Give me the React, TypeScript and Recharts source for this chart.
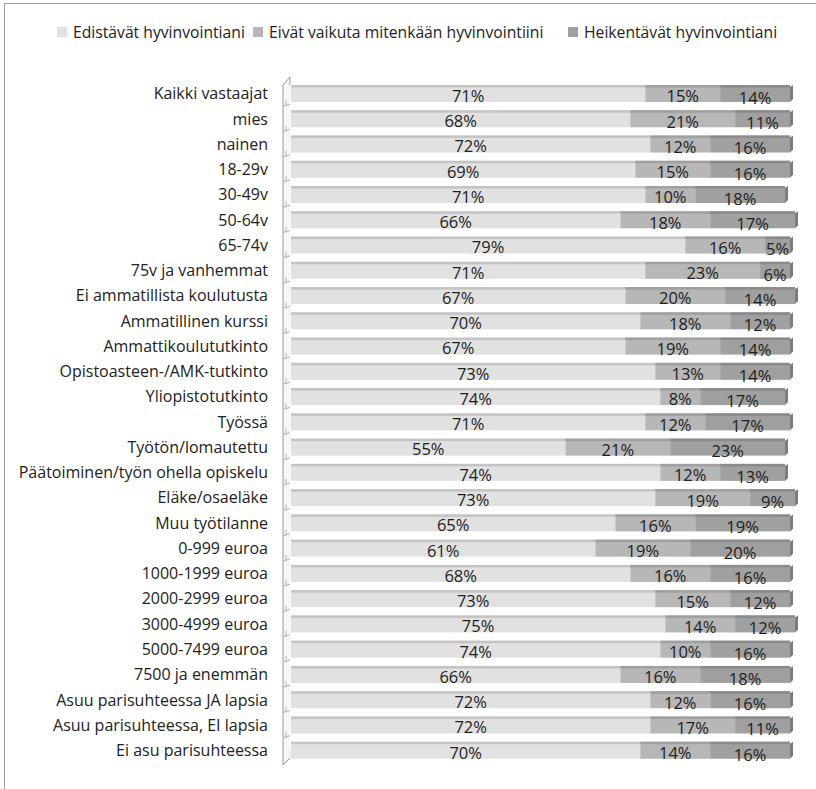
import React from 'react';
import * as R from 'recharts';
import { BarChart, Bar, XAxis, YAxis, LabelList, Legend } from 'recharts';

const categories = [
  'Kaikki vastaajat', 'mies', 'nainen', '18-29v', '30-49v', '50-64v', '65-74v',
  '75v ja vanhemmat', 'Ei ammatillista koulutusta', 'Ammatillinen kurssi',
  'Ammattikoulututkinto', 'Opistoasteen-/AMK-tutkinto', 'Yliopistotutkinto',
  'Työssä', 'Työtön/lomautettu', 'Päätoiminen/työn ohella opiskelu',
  'Eläke/osaeläke', 'Muu työtilanne', '0-999 euroa', '1000-1999 euroa',
  '2000-2999 euroa', '3000-4999 euroa', '5000-7499 euroa', '7500 ja enemmän',
  'Asuu parisuhteessa JA lapsia', 'Asuu parisuhteessa, EI lapsia', 'Ei asu parisuhteessa',
];
const edistavat = [71, 68, 72, 69, 71, 66, 79, 71, 67, 70, 67, 73, 74, 71, 55, 74, 73, 65, 61, 68, 73, 75, 74, 66, 72, 72, 70];
const eivatVaikuta = [15, 21, 12, 15, 10, 18, 16, 23, 20, 18, 19, 13, 8, 12, 21, 12, 19, 16, 19, 16, 15, 14, 10, 16, 12, 17, 14];
const heikentavat = [14, 11, 16, 16, 18, 17, 5, 6, 14, 12, 14, 14, 17, 17, 23, 13, 9, 19, 20, 16, 12, 12, 16, 18, 16, 11, 16];
const seriesNames = ['Edistävät hyvinvointiani', 'Eivät vaikuta mitenkään hyvinvointiini', 'Heikentävät hyvinvointiani'];

const data = categories.map((c, i) => ({
  name: c,
  a: edistavat[i],
  b: eivatVaikuta[i],
  c: heikentavat[i],
}));

const FONT = '"Open Sans", "Noto Sans", sans-serif';
const COLORS = ['#e1e1e1', '#b7b7b7', '#a0a0a0'];
const TOPS = ['#c4c4c4', '#a0a0a0', '#8a8a8a'];
const LEGEND_ITEM_WIDTHS = [196, 315, 230];

const makeShape = (idx: number) => (p: any) => {
  const { x, y, width, height } = p;
  if (width == null || height == null) return null;
  const last = idx === 2;
  return (
    <g>
      <rect x={x} y={y} width={width} height={height} fill={COLORS[idx]} />
      <rect x={x} y={y} width={width} height={2.5} fill={TOPS[idx]} />
      {last && (
        <polygon
          points={`${x + width},${y + 2} ${x + width + 3},${y} ${x + width + 3},${y + height - 3} ${x + width},${y + height}`}
          fill="#7c7c7c"
        />
      )}
    </g>
  );
};

const Wall = () => {
  const anyR: any = R;
  let area: any = null;
  if (anyR.usePlotArea) {
    area = anyR.usePlotArea();
  }
  if (!area) return null;
  const { x, y, height } = area;
  const n = categories.length;
  const band = height / n;
  const fx = x - 8;
  const bx = x - 1;
  const ticks = [];
  for (let i = 1; i < n; i++) {
    const ty = y + i * band;
    ticks.push(
      <g key={i}>
        <line x1={fx} y1={ty} x2={bx} y2={ty - 2} stroke="#b5b5b5" strokeWidth={1} />
        <line x1={fx + 3} y1={ty - 6} x2={fx + 3} y2={ty} stroke="#b5b5b5" strokeWidth={1} />
      </g>
    );
  }
  return (
    <g>
      <polygon
        points={`${fx},${y + 4} ${bx},${y - 4} ${bx},${y + height - 5} ${fx},${y + height + 2}`}
        fill="#f6f6f6"
        stroke="none"
      />
      <polyline
        points={`${bx},${y + 4} ${bx},${y - 4} ${fx},${y + 4} ${fx},${y + height + 2} ${bx},${y + height - 5}`}
        fill="none"
        stroke="#9a9a9a"
        strokeWidth={1}
      />
      {ticks}
    </g>
  );
};

const LegendContent = () => (
  <div style={{ display: 'flex', alignItems: 'center', fontFamily: FONT, fontSize: 15.7, color: '#222', whiteSpace: 'nowrap', lineHeight: '20px', height: 20 }}>
    {seriesNames.map((s, i) => (
      <div key={s} style={{ display: 'flex', alignItems: 'center', width: LEGEND_ITEM_WIDTHS[i] }}>
        <span style={{ display: 'inline-block', width: 10, height: 10, background: COLORS[i], marginRight: 6 }} />
        <span>{s}</span>
      </div>
    ))}
  </div>
);

const labelStyle = { fontFamily: FONT, fontSize: 16.5, fill: '#1e1e1e' };

export default function App() {
  return (
    <div style={{ position: 'absolute', left: 0, top: 0, width: 816, height: 789, overflow: 'hidden', background: '#fff' }}>
      <div style={{ position: 'absolute', left: 4, top: 3, width: 820, height: 800, borderLeft: '1px solid #9e9e9e', borderTop: '1px solid #9e9e9e', boxSizing: 'border-box' }} />
      <div style={{ position: 'absolute', left: 0, top: 0 }}>
        <BarChart
          width={816}
          height={789}
          layout="vertical"
          data={data}
          margin={{ top: 61, right: 21, bottom: 26, left: 0 }}
          barCategoryGap={0}
        >
          <XAxis type="number" domain={[0, 100]} hide />
          <YAxis
            type="category"
            dataKey="name"
            width={291}
            axisLine={false}
            tickLine={false}
            tickSize={0}
            tickMargin={23}
            interval={0}
            tick={{ fontFamily: FONT, fontSize: 16, fill: '#222' }}
          />
          <Legend
            verticalAlign="top"
            align="left"
            height={20}
            wrapperStyle={{ position: 'absolute', top: 22, left: 57, width: 'auto' }}
            content={<LegendContent />}
          />
          <Wall />
          <Bar dataKey="a" stackId="s" name={seriesNames[0]} fill={COLORS[0]} barSize={17} isAnimationActive={false} shape={makeShape(0)}>
            <LabelList dataKey="a" position="center" formatter={(v: any) => `${v}%`} style={labelStyle} dy={2.5} />
          </Bar>
          <Bar dataKey="b" stackId="s" name={seriesNames[1]} fill={COLORS[1]} barSize={17} isAnimationActive={false} shape={makeShape(1)}>
            <LabelList dataKey="b" position="center" formatter={(v: any) => `${v}%`} style={labelStyle} dy={3} />
          </Bar>
          <Bar dataKey="c" stackId="s" name={seriesNames[2]} fill={COLORS[2]} barSize={17} isAnimationActive={false} shape={makeShape(2)}>
            <LabelList dataKey="c" position="center" formatter={(v: any) => `${v}%`} style={labelStyle} dy={4.5} />
          </Bar>
        </BarChart>
      </div>
    </div>
  );
}
